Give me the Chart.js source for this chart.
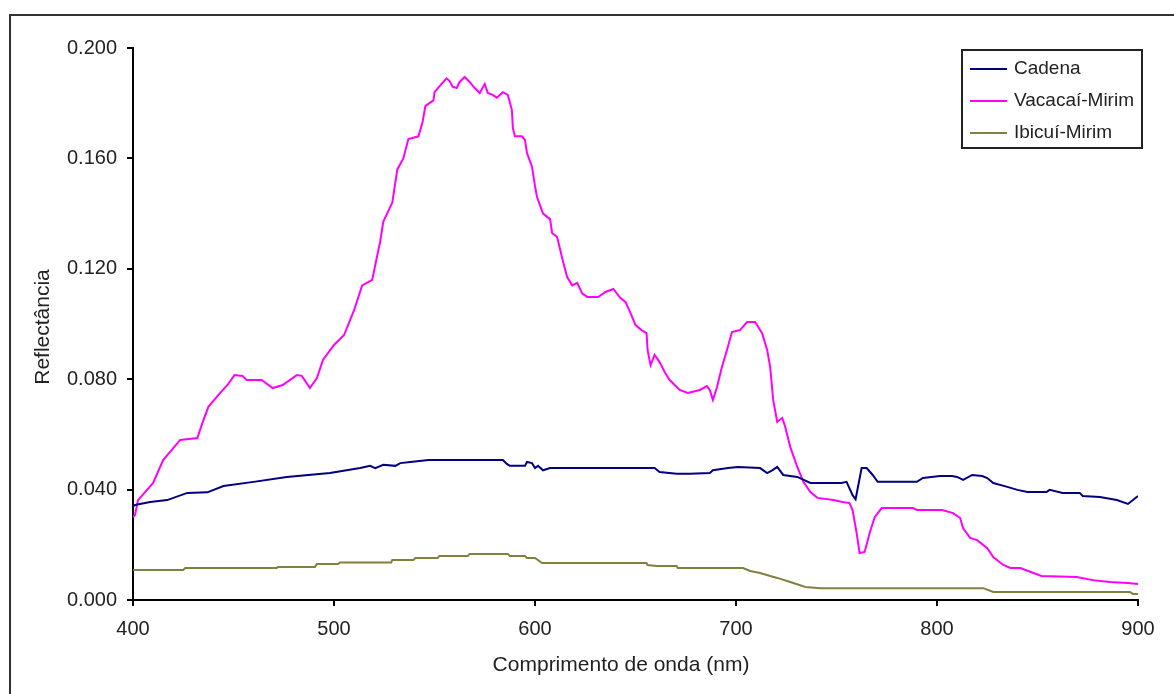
<!DOCTYPE html>
<html lang="pt">
<head>
    <meta charset="UTF-8">
    <title>Reflectância espectral</title>
    <script src="https://cdn.jsdelivr.net/npm/chart.js"></script>
    <style>
        body {
            margin: 0;
            background: #fff;
        }
        canvas {
            display: block;
        }
    </style>
</head>
<body>

<canvas id="spectra" width="1174" height="694"></canvas>

<script>
// wavelength (nm) / reflectance
const seriesNames = ['Cadena', 'Vacacaí-Mirim', 'Ibicuí-Mirim'];

const cadenaNm = [400, 401, 408.5, 417, 427, 437, 445, 460, 476.5, 498,
    513, 518, 520.5, 524.5, 530.5, 533, 538, 547, 584, 586,
    587.5, 595, 596, 598.5, 600, 601.5, 604, 607.5, 659.5, 662,
    670.5, 677, 687, 688.5, 696, 701, 712, 715.5, 718, 720.5,
    723.5, 730.5, 737, 752.5, 755, 758, 759.5, 762.5, 765, 768,
    770.5, 790, 793, 801.5, 807.5, 810, 813, 817.5, 822.5, 825,
    828, 835, 840, 845, 854.5, 856, 862.5, 871, 872.5, 881,
    889.5, 895, 897.5, 900];
const cadenaRefl = [0.0340, 0.0344, 0.0355, 0.0362, 0.0388, 0.0390, 0.0413, 0.0428, 0.0446, 0.0460,
    0.0478, 0.0486, 0.0478, 0.0490, 0.0486, 0.0496, 0.0500, 0.0507, 0.0507, 0.0493,
    0.0486, 0.0486, 0.0500, 0.0496, 0.0478, 0.0486, 0.0470, 0.0478, 0.0478, 0.0464,
    0.0457, 0.0457, 0.0460, 0.0470, 0.0478, 0.0482, 0.0478, 0.0460, 0.0470, 0.0482,
    0.0453, 0.0446, 0.0424, 0.0424, 0.0428, 0.0380, 0.0365, 0.0478, 0.0478, 0.0453,
    0.0428, 0.0428, 0.0442, 0.0449, 0.0449, 0.0446, 0.0435, 0.0453, 0.0449, 0.0442,
    0.0424, 0.0410, 0.0399, 0.0391, 0.0391, 0.0399, 0.0388, 0.0388, 0.0377, 0.0373,
    0.0362, 0.0348, 0.0362, 0.0377];

const vacacaiNm = [400, 401, 402.5, 410, 415, 423.5, 432, 434.5, 437.5, 442.5,
    447, 450.5, 454.5, 456.5, 464, 469.5, 474.5, 481.5, 484, 488,
    491.5, 494.5, 500, 505, 510, 514, 519, 521, 523, 524.5,
    529, 531.5, 534.5, 537, 542, 544, 545.5, 549.5, 550, 553.5,
    556, 557.5, 559, 561, 562.5, 565, 567.5, 570, 572.5, 575,
    576.5, 579, 581, 584, 586.5, 588.5, 589, 590, 593.5, 595,
    596, 598.5, 600, 601, 604, 607.5, 608.5, 611, 612.5, 614,
    616, 618.5, 621, 623.5, 626, 631.5, 635, 639, 642.5, 645,
    647.5, 650, 653, 655.5, 656, 657.5, 659.5, 662, 664.5, 667,
    672, 676, 682, 685.5, 687, 688.5, 690.5, 693, 695.5, 698,
    702, 705.5, 709.5, 713, 715.5, 717, 718.5, 720.5, 723, 724.5,
    727, 730.5, 733.5, 737, 740.5, 748.5, 753, 756.5, 758, 760,
    761.5, 764, 766.5, 769, 772.5, 788, 790, 802.5, 808, 811.5,
    813, 816.5, 820, 825, 828, 833, 836.5, 841.5, 848, 852,
    869.5, 877.5, 886, 895, 900];
const vacacaiRefl = [0.0300, 0.0308, 0.0362, 0.0424, 0.0507, 0.0580, 0.0587, 0.0641, 0.0700, 0.0743,
    0.0779, 0.0815, 0.0812, 0.0797, 0.0797, 0.0768, 0.0779, 0.0815, 0.0812, 0.0768,
    0.0804, 0.0870, 0.0924, 0.0960, 0.1050, 0.1140, 0.1160, 0.1230, 0.1300, 0.1370,
    0.1440, 0.1560, 0.1600, 0.1670, 0.1680, 0.1730, 0.1790, 0.1810, 0.1840, 0.1870,
    0.1890, 0.1880, 0.1860, 0.1855, 0.1877, 0.1895, 0.1877, 0.1855, 0.1837, 0.1870,
    0.1837, 0.1830, 0.1820, 0.1840, 0.1830, 0.1775, 0.1710, 0.1680, 0.1680, 0.1667,
    0.1620, 0.1570, 0.1500, 0.1460, 0.1400, 0.1380, 0.1330, 0.1315, 0.1270, 0.1225,
    0.1170, 0.1140, 0.1149, 0.1110, 0.1098, 0.1098, 0.1116, 0.1127, 0.1094, 0.1080,
    0.1040, 0.0996, 0.0978, 0.0967, 0.0906, 0.0851, 0.0888, 0.0862, 0.0826, 0.0797,
    0.0761, 0.0750, 0.0761, 0.0775, 0.0760, 0.0725, 0.0770, 0.0844, 0.0906, 0.0971,
    0.0978, 0.1007, 0.1007, 0.0967, 0.0906, 0.0844, 0.0725, 0.0645, 0.0660, 0.0627,
    0.0554, 0.0482, 0.0428, 0.0391, 0.0370, 0.0362, 0.0355, 0.0351, 0.0326, 0.0243,
    0.0170, 0.0174, 0.0243, 0.0300, 0.0333, 0.0333, 0.0326, 0.0326, 0.0315, 0.0297,
    0.0260, 0.0225, 0.0217, 0.0188, 0.0156, 0.0127, 0.0116, 0.0116, 0.0098, 0.0087,
    0.0083, 0.0072, 0.0065, 0.0062, 0.0058];

const ibicuiNm = [400, 425, 426, 471.5, 472, 490.5, 491.5, 502, 503, 528.5,
    529, 539.5, 540.5, 551.5, 552.5, 566.5, 567.5, 586.5, 587.5, 595,
    596, 600, 603.5, 655.5, 656, 660.5, 670.5, 671, 703.5, 707,
    712, 717, 720.5, 727, 734.5, 742, 823, 828, 896, 897.5,
    900];
const ibicuiRefl = [0.0109, 0.0109, 0.0116, 0.0116, 0.0120, 0.0120, 0.0130, 0.0130, 0.0136, 0.0136,
    0.0145, 0.0145, 0.0152, 0.0152, 0.0159, 0.0159, 0.0167, 0.0167, 0.0159, 0.0159,
    0.0152, 0.0152, 0.0134, 0.0134, 0.0127, 0.0123, 0.0123, 0.0116, 0.0116, 0.0105,
    0.0098, 0.0087, 0.0080, 0.0065, 0.0047, 0.0043, 0.0043, 0.0029, 0.0029, 0.0022,
    0.0022];

const xTicks = [400, 500, 600, 700, 800, 900];
const yTicks = [0, 0.04, 0.08, 0.12, 0.16, 0.2];

const colors = ['#000080', '#ff00ff', '#808040'];
const fontFamily = '"Liberation Sans", Arial, sans-serif';
const textColor = '#222';

function toPoints(xs, ys) {
    return xs.map((x, i) => ({ x: x, y: ys[i] }));
}

// white background, outer frame, axis titles and the boxed legend
const decorations = {
    id: 'decorations',
    beforeDraw(chart) {
        const ctx = chart.ctx;
        ctx.save();
        ctx.fillStyle = '#fff';
        ctx.fillRect(0, 0, chart.width, chart.height);
        ctx.strokeStyle = '#333';
        ctx.lineWidth = 2;
        ctx.beginPath();
        ctx.moveTo(10, chart.height + 5);
        ctx.lineTo(10, 15);
        ctx.lineTo(chart.width + 5, 15);
        ctx.stroke();
        ctx.restore();
    },
    afterDraw(chart) {
        const ctx = chart.ctx;
        ctx.save();
        ctx.fillStyle = textColor;
        ctx.font = '21px ' + fontFamily;
        ctx.textAlign = 'center';
        ctx.textBaseline = 'middle';
        ctx.fillText('Comprimento de onda (nm)', 621, 665);
        ctx.translate(43, 327);
        ctx.rotate(-Math.PI / 2);
        ctx.fillText('Reflectância', 0, 0);
        ctx.restore();

        ctx.save();
        ctx.strokeStyle = '#222';
        ctx.lineWidth = 2;
        ctx.strokeRect(962, 50, 180, 98);
        ctx.font = '19px ' + fontFamily;
        ctx.textBaseline = 'middle';
        ctx.textAlign = 'left';
        seriesNames.forEach((name, i) => {
            const y = 69 + i * 32;
            ctx.strokeStyle = colors[i];
            ctx.beginPath();
            ctx.moveTo(970, y);
            ctx.lineTo(1007, y);
            ctx.stroke();
            ctx.fillStyle = textColor;
            ctx.fillText(name, 1014, y);
        });
        ctx.restore();
    }
};

new Chart(document.getElementById('spectra'), {
    type: 'line',
    data: {
        datasets: [
            { label: seriesNames[0], data: toPoints(cadenaNm, cadenaRefl), borderColor: colors[0] },
            { label: seriesNames[1], data: toPoints(vacacaiNm, vacacaiRefl), borderColor: colors[1] },
            { label: seriesNames[2], data: toPoints(ibicuiNm, ibicuiRefl), borderColor: colors[2] }
        ]
    },
    options: {
        responsive: false,
        devicePixelRatio: 1,
        animation: false,
        layout: {
            padding: { left: 0, top: 48, right: 36, bottom: 0 }
        },
        elements: {
            line: { borderWidth: 2, tension: 0, fill: false },
            point: { radius: 0, hoverRadius: 0 }
        },
        plugins: {
            legend: { display: false },
            tooltip: { enabled: false }
        },
        scales: {
            x: {
                type: 'linear',
                min: xTicks[0],
                max: xTicks[xTicks.length - 1],
                afterBuildTicks(scale) {
                    scale.ticks = xTicks.map(v => ({ value: v }));
                },
                afterFit(scale) {
                    scale.height = 94;
                },
                ticks: {
                    color: textColor,
                    font: { family: fontFamily, size: 20 },
                    padding: 11,
                    maxRotation: 0,
                    callback: v => String(v)
                },
                grid: {
                    drawOnChartArea: false,
                    drawTicks: true,
                    tickLength: 6,
                    color: '#000',
                    lineWidth: 2
                },
                border: { color: '#000', width: 2 }
            },
            y: {
                min: yTicks[0],
                max: yTicks[yTicks.length - 1],
                afterBuildTicks(scale) {
                    scale.ticks = yTicks.map(v => ({ value: v }));
                },
                afterFit(scale) {
                    scale.width = 133;
                },
                ticks: {
                    color: textColor,
                    font: { family: fontFamily, size: 20 },
                    padding: 10,
                    callback: v => Number(v).toFixed(3)
                },
                grid: {
                    drawOnChartArea: false,
                    drawTicks: true,
                    tickLength: 6,
                    color: '#000',
                    lineWidth: 2
                },
                border: { color: '#000', width: 2 }
            }
        }
    },
    plugins: [decorations]
});
</script>

</body>
</html>
